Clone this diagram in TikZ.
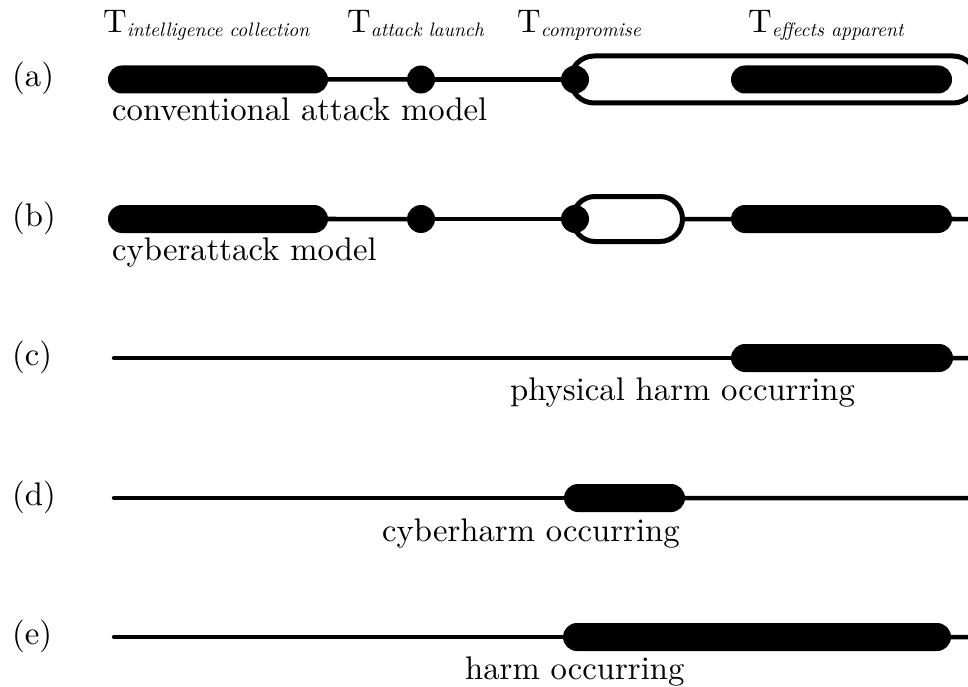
\documentclass[tikz,border=0pt]{standalone}
\usepackage{fontspec}
\setmainfont{lmroman10-regular.otf}[ItalicFont=lmroman10-italic.otf]
\usetikzlibrary{shapes.misc}
\newcommand{\tsub}[2]{T\raisebox{-4pt}{\fontsize{19.5}{21}\selectfont\itshape #2}}
\begin{document}
\begin{tikzpicture}[x=1pt,y=-1pt,
  thinline/.style={line width=4.5pt},
  barnode/.style={rounded rectangle, fill=black, minimum height=28pt, inner sep=0pt},
  dotnode/.style={circle, fill=black, minimum size=28pt, inner sep=0pt},
  capsule/.style={rounded rectangle, draw=black, fill=white, line width=5pt, inner sep=0pt},
  lbl/.style={anchor=base west, inner sep=0pt, font=\fontsize{32.7}{36}\selectfont},
  toplbl/.style={anchor=base west, inner sep=0pt, font=\fontsize{32.7}{36}\selectfont}]
\clip (0,0) rectangle (968,687);
\fill[white] (0,0) rectangle (968,687);

% top labels
\node[toplbl] (tic) at (103,33) {\tsub{}{intelligence collection}};
\node[toplbl] (tal) at (347,33) {\tsub{}{attack launch}};
\node[toplbl] (tcp) at (517,33) {\tsub{}{compromise}};
\node[toplbl] (tea) at (748,33) {\tsub{}{effects apparent}};

% row labels
\node[lbl] (la) at (12,87) {(a)};
\node[lbl] (lb) at (12,226.5) {(b)};
\node[lbl] (lc) at (12,365.5) {(c)};
\node[lbl] (ld) at (12,505.5) {(d)};
\node[lbl] (le) at (12,644.5) {(e)};

% row (a)
\node[capsule, minimum width=406pt, minimum height=47pt] (capa) at (773.5,79.5) {};
\node[barnode, minimum width=220pt] (ia) at (218,79.5) {};
\node[dotnode] (aa) at (421,79.5) {};
\node[dotnode] (ca) at (575,79.5) {};
\node[barnode, minimum width=221pt] (ea) at (841.5,79.5) {};
\draw[thinline] (ia) -- (aa);
\draw[thinline] (aa) -- (ca);
\node[lbl] (ta) at (112,121) {conventional attack model};

% row (b)
\node[capsule, minimum width=110pt, minimum height=45pt] (capb) at (627.5,219) {};
\node[barnode, minimum width=220pt] (ib) at (218,219) {};
\node[dotnode] (ab) at (421,219) {};
\node[dotnode] (cb) at (575,219) {};
\node[barnode, minimum width=221pt] (eb) at (841.5,219) {};
\coordinate (endb) at (968,219);
\draw[thinline] (ib) -- (ab);
\draw[thinline] (ab) -- (cb);
\draw[thinline] (capb) -- (eb);
\draw[thinline] (eb) -- (endb);
\node[lbl] (tb) at (112,260) {cyberattack model};

% row (c)
\coordinate (sc) at (114,358);
\coordinate (ec) at (968,358);
\node[barnode, minimum width=222pt] (hc) at (842,358) {};
\draw[thinline, line cap=round] (sc) -- (hc);
\draw[thinline] (hc) -- (ec);
\node[lbl] (tc) at (510,400) {physical harm occurring};

% row (d)
\coordinate (sd) at (114,498);
\coordinate (ed) at (968,498);
\node[barnode, minimum width=121pt] (hd) at (624.5,498) {};
\draw[thinline, line cap=round] (sd) -- (hd);
\draw[thinline] (hd) -- (ed);
\node[lbl] (td) at (382,541) {cyberharm occurring};

% row (e)
\coordinate (se) at (114,637);
\coordinate (ee) at (968,637);
\node[barnode, minimum width=388pt] (he) at (757,637) {};
\draw[thinline, line cap=round] (se) -- (he);
\draw[thinline] (he) -- (ee);
\node[lbl] (te) at (465,679) {harm occurring};
\end{tikzpicture}
\end{document}
